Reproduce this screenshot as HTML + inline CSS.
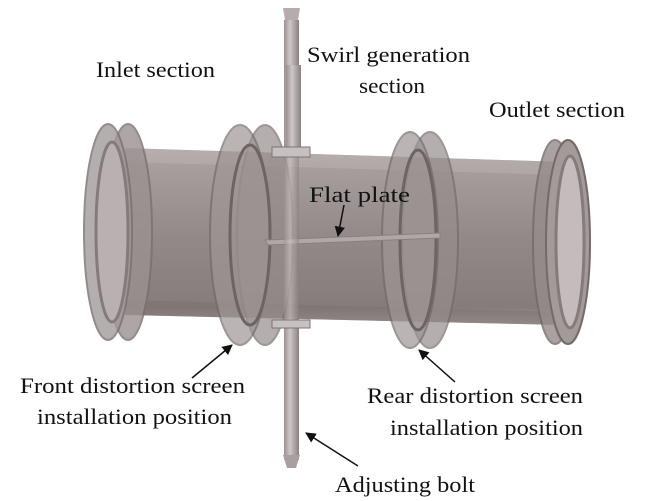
<!DOCTYPE html>
<html><head><meta charset="utf-8"><style>
html,body{margin:0;padding:0;background:#fff;}
svg{display:block}
text{font-family:"Liberation Serif",serif;font-size:22px;fill:#111}
</style></head><body>
<svg width="650" height="501" viewBox="0 0 650 501" xmlns="http://www.w3.org/2000/svg">
<defs>
<linearGradient id="pipe" x1="0" y1="0" x2="0" y2="1">
<stop offset="0" stop-color="#b3aaaa"/><stop offset="0.1" stop-color="#a39999"/>
<stop offset="0.5" stop-color="#8d8383"/><stop offset="0.9" stop-color="#7f7575"/><stop offset="1" stop-color="#a59c9c"/>
</linearGradient>
<linearGradient id="rod" x1="0" y1="0" x2="1" y2="0">
<stop offset="0" stop-color="#9a9090"/><stop offset="0.4" stop-color="#cfc8c8"/><stop offset="1" stop-color="#8a8080"/>
</linearGradient>
<marker id="ah" viewBox="0 0 10 10" refX="9" refY="5" markerWidth="7" markerHeight="7" orient="auto"><path d="M0,0 L10,5 L0,10 z" fill="#111"/></marker>
</defs>
<rect x="284" y="20" width="15" height="440" fill="url(#rod)"/>
<rect x="286" y="65" width="15" height="90" fill="url(#rod)"/>
<path d="M283,8 L300,8 L298,20 L285,20 z" fill="#b5adad"/>
<path d="M283,455 L300,455 L296,468 L287,468 z" fill="#a8a0a0"/>
<path d="M125,148 L565,162 L565,325 L125,315 z" fill="url(#pipe)" opacity="0.95"/>
<path d="M125,148 L565,162 L565,175 L125,162 z" fill="#b8afaf" opacity="0.6"/>
<path d="M125,300 L565,312 L565,325 L125,315 z" fill="#7a7070" opacity="0.5"/>
<ellipse cx="128" cy="232" rx="24" ry="108" fill="#9a9191" stroke="#7a7070" stroke-width="2" opacity="0.8"/>
<ellipse cx="108" cy="232" rx="24" ry="108" fill="#a29a9a" stroke="#7a7070" stroke-width="2" opacity="0.8"/>
<ellipse cx="112" cy="232" rx="16" ry="90" fill="#b9b1b1" stroke="#857b7b" stroke-width="3"/>
<ellipse cx="265" cy="235" rx="28" ry="110" fill="#958c8c" stroke="#746a6a" stroke-width="2" opacity="0.7"/>
<ellipse cx="240" cy="235" rx="30" ry="110" fill="#9e9595" stroke="#746a6a" stroke-width="2" opacity="0.7"/>
<ellipse cx="250" cy="235" rx="20" ry="90" fill="none" stroke="#6e6464" stroke-width="3"/>
<ellipse cx="430" cy="240" rx="28" ry="108" fill="#958c8c" stroke="#746a6a" stroke-width="2" opacity="0.7"/>
<ellipse cx="410" cy="240" rx="28" ry="108" fill="#9e9595" stroke="#746a6a" stroke-width="2" opacity="0.7"/>
<ellipse cx="418" cy="240" rx="18" ry="90" fill="none" stroke="#6e6464" stroke-width="3"/>
<ellipse cx="555" cy="242" rx="22" ry="102" fill="#958c8c" stroke="#746a6a" stroke-width="2" opacity="0.8"/>
<ellipse cx="568" cy="242" rx="22" ry="102" fill="#a39a9a" stroke="#746a6a" stroke-width="2"/>
<ellipse cx="570" cy="242" rx="14" ry="86" fill="#c4bcbc" stroke="#857b7b" stroke-width="3"/>
<path d="M265,240 L440,233 L440,238 L268,245 z" fill="#b0a8a8" stroke="#8a8080"/>
<rect x="284" y="150" width="15" height="300" fill="url(#rod)" opacity="0.6"/>
<rect x="272" y="147" width="38" height="10" fill="#c8c0c0" stroke="#777"/>
<rect x="272" y="320" width="38" height="8" fill="#c8c0c0" stroke="#777"/>
<g stroke="#111" stroke-width="1.5" fill="none" marker-end="url(#ah)">
<line x1="344" y1="205" x2="338" y2="236"/>
<line x1="192" y1="378" x2="232" y2="345"/>
<line x1="455" y1="382" x2="419" y2="350"/>
<line x1="358" y1="466" x2="306" y2="433"/>
</g>
<text x="96" y="77" textLength="119" lengthAdjust="spacingAndGlyphs">Inlet section</text>
<text x="307" y="62" textLength="163" lengthAdjust="spacingAndGlyphs">Swirl generation</text>
<text x="359" y="93" textLength="66" lengthAdjust="spacingAndGlyphs">section</text>
<text x="489" y="117" textLength="136" lengthAdjust="spacingAndGlyphs">Outlet section</text>
<text x="309" y="202" textLength="101" lengthAdjust="spacingAndGlyphs">Flat plate</text>
<text x="20" y="393" textLength="225" lengthAdjust="spacingAndGlyphs">Front distortion screen</text>
<text x="37" y="424" textLength="195" lengthAdjust="spacingAndGlyphs">installation position</text>
<text x="367" y="403" textLength="216" lengthAdjust="spacingAndGlyphs">Rear distortion screen</text>
<text x="390" y="435" textLength="193" lengthAdjust="spacingAndGlyphs">installation position</text>
<text x="335" y="492" textLength="140" lengthAdjust="spacingAndGlyphs">Adjusting bolt</text>
</svg>
</body></html>
